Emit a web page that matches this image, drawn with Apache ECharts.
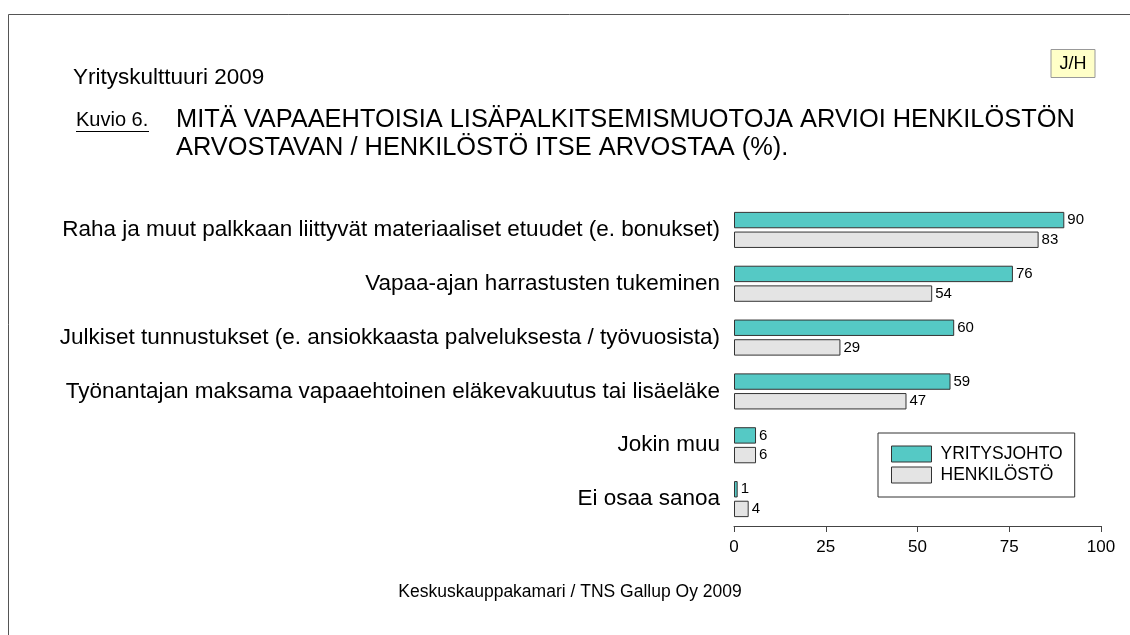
<!DOCTYPE HTML>
<html>
<head>
<meta charset="utf-8">
<title>Yrityskulttuuri 2009 - Kuvio 6</title>
<style type="text/css">
html,body{margin:0;padding:0;background:#fff;}
#myChart{width:1130px;height:635px;}
</style>
</head>
<body>
<div id="myChart"></div>
<script type="text/javascript" src="https://cdn.jsdelivr.net/npm/echarts@6/dist/echarts.min.js"></script>
<script type="text/javascript">
// data
var categories = [
    'Raha ja muut palkkaan liittyvät materiaaliset etuudet (e. bonukset)',
    'Vapaa-ajan harrastusten tukeminen',
    'Julkiset tunnustukset (e. ansiokkaasta palveluksesta / työvuosista)',
    'Työnantajan maksama vapaaehtoinen eläkevakuutus tai lisäeläke',
    'Jokin muu',
    'Ei osaa sanoa'
];
var yritysjohto = [90, 76, 60, 59, 6, 1];
var henkilosto = [83, 54, 29, 47, 6, 4];
var seriesNames = ['YRITYSJOHTO', 'HENKILÖSTÖ'];
var xTicks = { min: 0, max: 100, interval: 25 };

var font = '"Liberation Sans", Arial, sans-serif';

option = {
    animation: false,
    backgroundColor: '#fff',
    textStyle: { fontFamily: font },
    grid: { left: 734, right: 29, top: 203, bottom: 109 },
    legend: {
        orient: 'vertical',
        left: 878,
        top: 433,
        padding: [12, 12, 13, 13],
        borderColor: '#333',
        borderWidth: 1,
        icon: 'rect',
        itemWidth: 40,
        itemHeight: 16,
        itemGap: 3,
        itemStyle: { borderWidth: 1, borderColor: '#333' },
        data: seriesNames,
        textStyle: { fontSize: 17.5, color: '#000', fontFamily: font, padding: [0, 0, 0, 4] }
    },
    xAxis: {
        type: 'value',
        min: xTicks.min,
        max: xTicks.max,
        interval: xTicks.interval,
        splitLine: { show: false },
        axisLine: { show: true, lineStyle: { color: '#444', width: 1 } },
        axisTick: { show: true, length: 6, lineStyle: { color: '#444' } },
        axisLabel: { color: '#000', fontSize: 17, margin: 13, fontFamily: font }
    },
    yAxis: {
        type: 'category',
        inverse: true,
        data: categories,
        axisLine: { show: false },
        axisTick: { show: false },
        axisLabel: { color: '#000', fontSize: 22.5, margin: 14, fontFamily: font }
    },
    series: [
        {
            name: seriesNames[0],
            type: 'bar',
            data: yritysjohto,
            barGap: '20%',
            barCategoryGap: '33%',
            itemStyle: { color: '#55c9c5', borderColor: '#333', borderWidth: 1 },
            label: { show: true, position: 'right', distance: 3, fontSize: 15, color: '#000', fontFamily: font }
        },
        {
            name: seriesNames[1],
            type: 'bar',
            data: henkilosto,
            itemStyle: { color: '#e4e4e4', borderColor: '#333', borderWidth: 1 },
            label: { show: true, position: 'right', distance: 3, fontSize: 15, color: '#000', fontFamily: font }
        }
    ],
    graphic: [
        // page frame
        { type: 'line', shape: { x1: 8.5, y1: 14.5, x2: 1130, y2: 14.5 }, style: { stroke: '#555', lineWidth: 1 } },
        { type: 'line', shape: { x1: 8.5, y1: 14.5, x2: 8.5, y2: 635 }, style: { stroke: '#555', lineWidth: 1 } },
        // J/H box
        { type: 'rect', shape: { x: 1051, y: 49.5, width: 44, height: 28 }, style: { fill: '#ffffc8', stroke: '#999', lineWidth: 1 } },
        { type: 'text', x: 1073, y: 64, style: { text: 'J/H', font: '18px ' + font, fill: '#000', textAlign: 'center', textVerticalAlign: 'middle' } },
        // header texts
        { type: 'text', x: 73, y: 78, style: { text: 'Yrityskulttuuri 2009', font: '22.5px ' + font, fill: '#000', textVerticalAlign: 'middle' } },
        { type: 'text', x: 76, y: 120, style: { text: 'Kuvio 6.', font: '20px ' + font, fill: '#000', textVerticalAlign: 'middle' } },
        { type: 'line', shape: { x1: 76, y1: 131.5, x2: 149, y2: 131.5 }, style: { stroke: '#000', lineWidth: 1 } },
        { type: 'text', x: 176, y: 120, style: { text: 'MITÄ VAPAAEHTOISIA LISÄPALKITSEMISMUOTOJA ARVIOI HENKILÖSTÖN', font: '25.4px ' + font, fill: '#000', textVerticalAlign: 'middle' } },
        { type: 'text', x: 176, y: 148, style: { text: 'ARVOSTAVAN / HENKILÖSTÖ ITSE ARVOSTAA (%).', font: '25.4px ' + font, fill: '#000', textVerticalAlign: 'middle' } },
        // source
        { type: 'text', x: 570, y: 592, style: { text: 'Keskuskauppakamari / TNS Gallup Oy 2009', font: '17.5px ' + font, fill: '#000', textAlign: 'center', textVerticalAlign: 'middle' } }
    ]
};

var myChart = echarts.init(document.getElementById('myChart'), null, { renderer: 'canvas' });
myChart.setOption(option);
</script>
</body>
</html>
